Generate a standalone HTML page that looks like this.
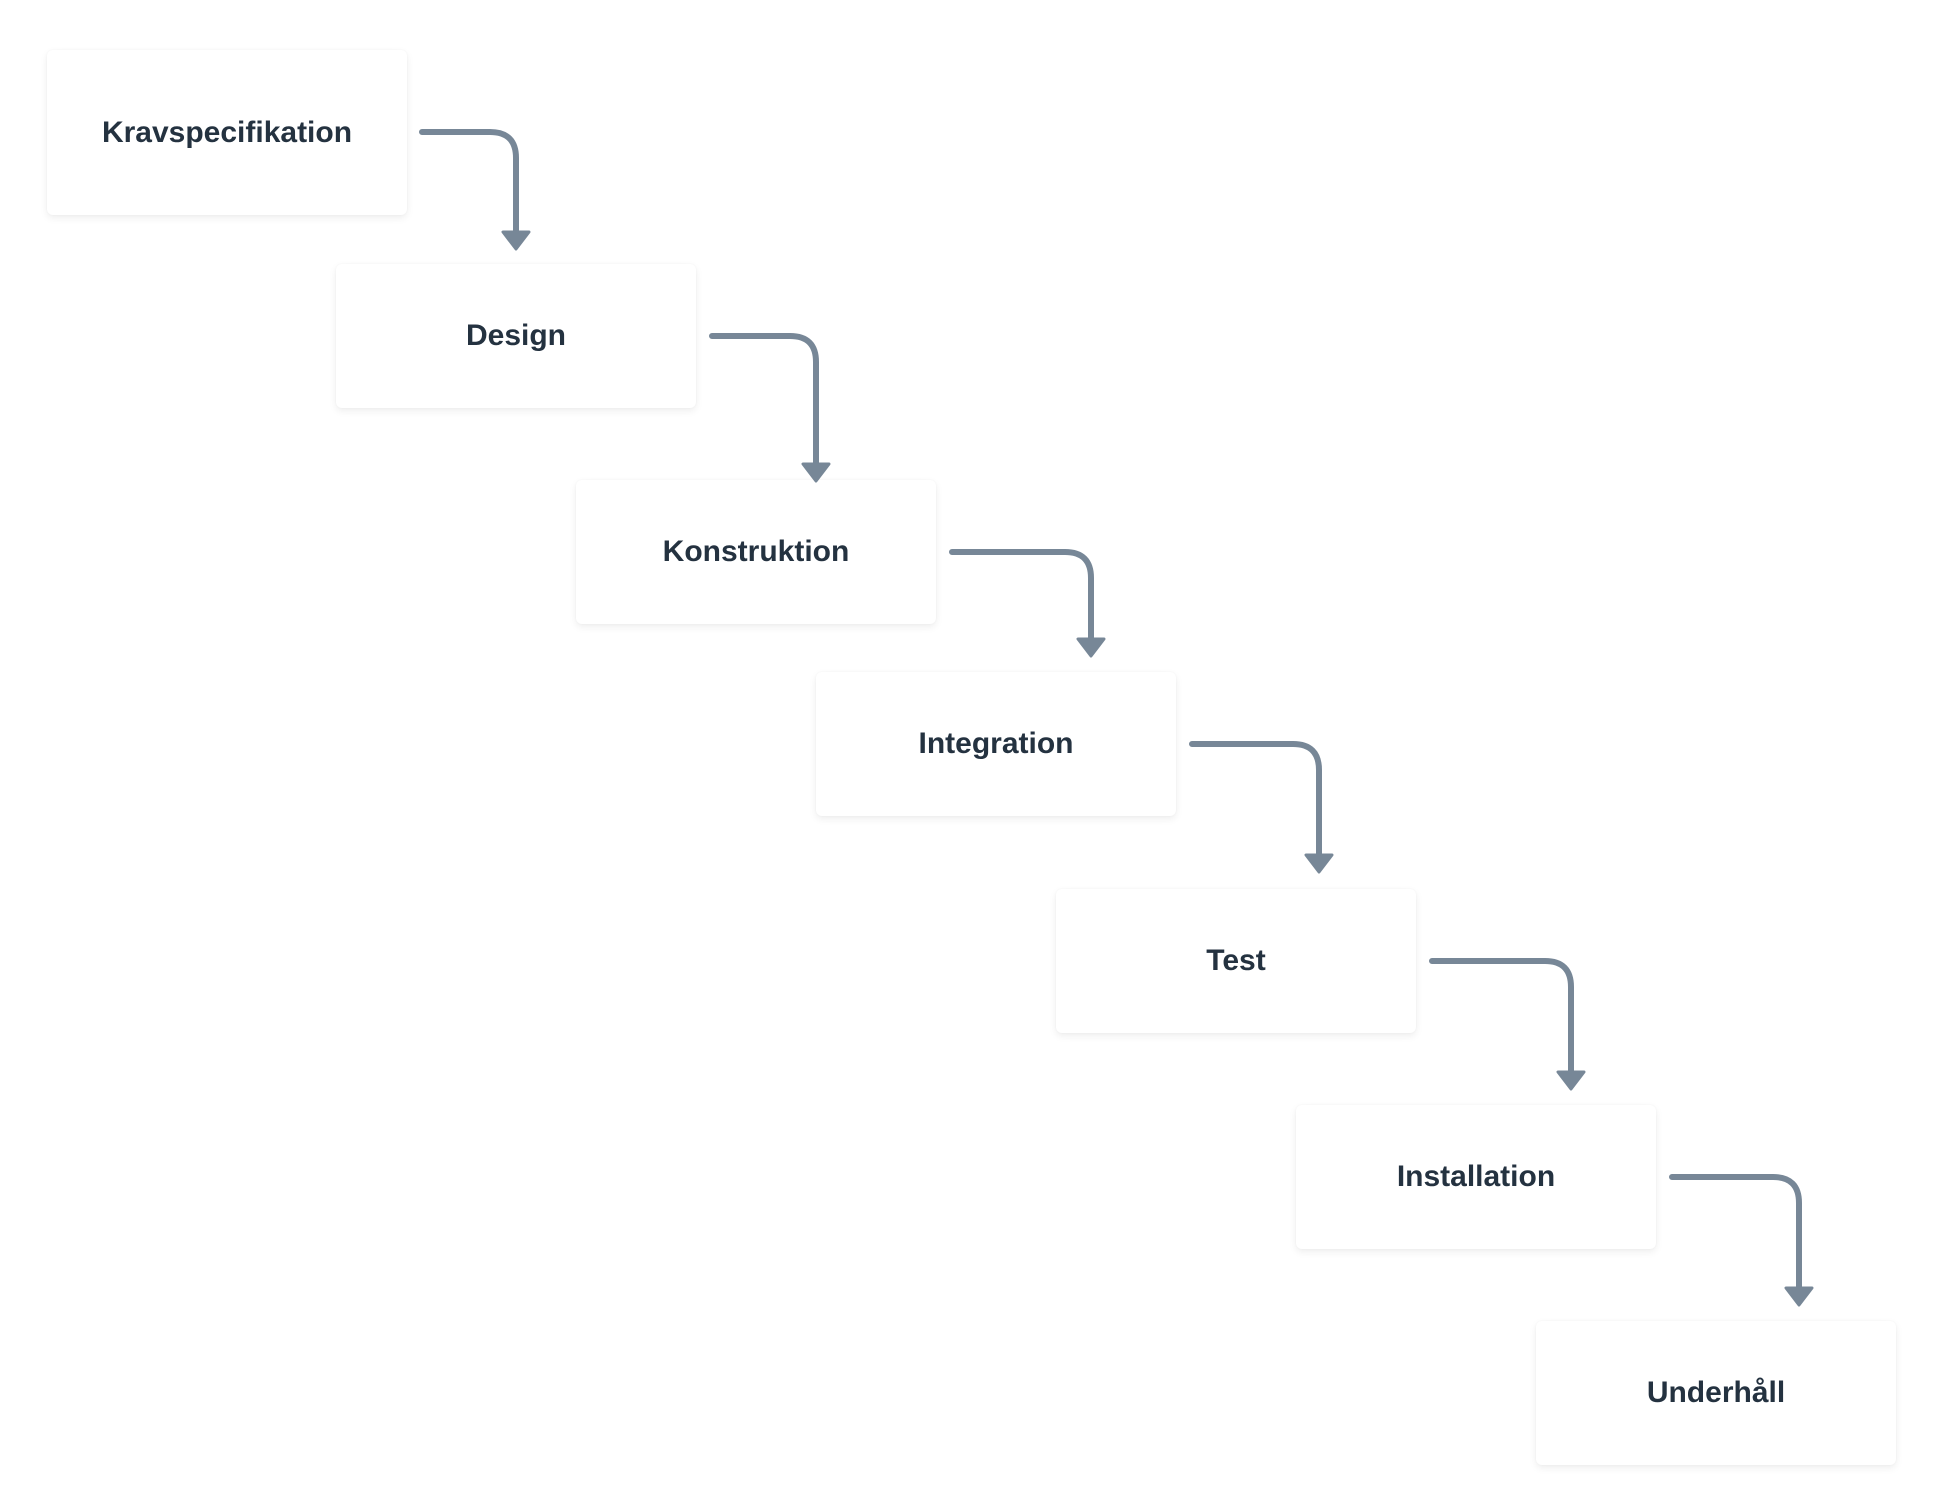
<!DOCTYPE html>
<html><head><meta charset="utf-8"><style>
body{margin:0;width:1944px;height:1512px;background:#fff;overflow:hidden;position:relative;font-family:"Liberation Sans",sans-serif}
.b{position:absolute;width:360px;height:144px;background:#fff;border-radius:6px;box-shadow:0 3px 8px rgba(0,0,0,0.07),0 0 2px rgba(0,0,0,0.04);display:flex;align-items:center;justify-content:center;font-size:30px;font-weight:600;color:#243240}
svg{position:absolute;left:0;top:0}
</style></head><body>
<div class="b" style="left:47px;top:50px;height:165px">Kravspecifikation</div>
<div class="b" style="left:336px;top:264px">Design</div>
<div class="b" style="left:576px;top:480px">Konstruktion</div>
<div class="b" style="left:816px;top:672px">Integration</div>
<div class="b" style="left:1056px;top:889px">Test</div>
<div class="b" style="left:1296px;top:1105px">Installation</div>
<div class="b" style="left:1536px;top:1321px">Underhåll</div>
<svg width="1944" height="1512" fill="none" stroke="#778797" stroke-width="6" stroke-linecap="round">
<path d="M422 132 H490 Q516 132 516 158 V234"/>
<polygon points="503,232 529,232 516,249" fill="#778797" stroke-width="3" stroke-linejoin="round"/>
<path d="M712 336 H790 Q816 336 816 362 V466"/>
<polygon points="803,464 829,464 816,481" fill="#778797" stroke-width="3" stroke-linejoin="round"/>
<path d="M952 552 H1065 Q1091 552 1091 578 V641"/>
<polygon points="1078,639 1104,639 1091,656" fill="#778797" stroke-width="3" stroke-linejoin="round"/>
<path d="M1192 744 H1293 Q1319 744 1319 770 V857"/>
<polygon points="1306,855 1332,855 1319,872" fill="#778797" stroke-width="3" stroke-linejoin="round"/>
<path d="M1432 961 H1545 Q1571 961 1571 987 V1074"/>
<polygon points="1558,1072 1584,1072 1571,1089" fill="#778797" stroke-width="3" stroke-linejoin="round"/>
<path d="M1672 1177 H1773 Q1799 1177 1799 1203 V1290"/>
<polygon points="1786,1288 1812,1288 1799,1305" fill="#778797" stroke-width="3" stroke-linejoin="round"/>
</svg>
</body></html>
